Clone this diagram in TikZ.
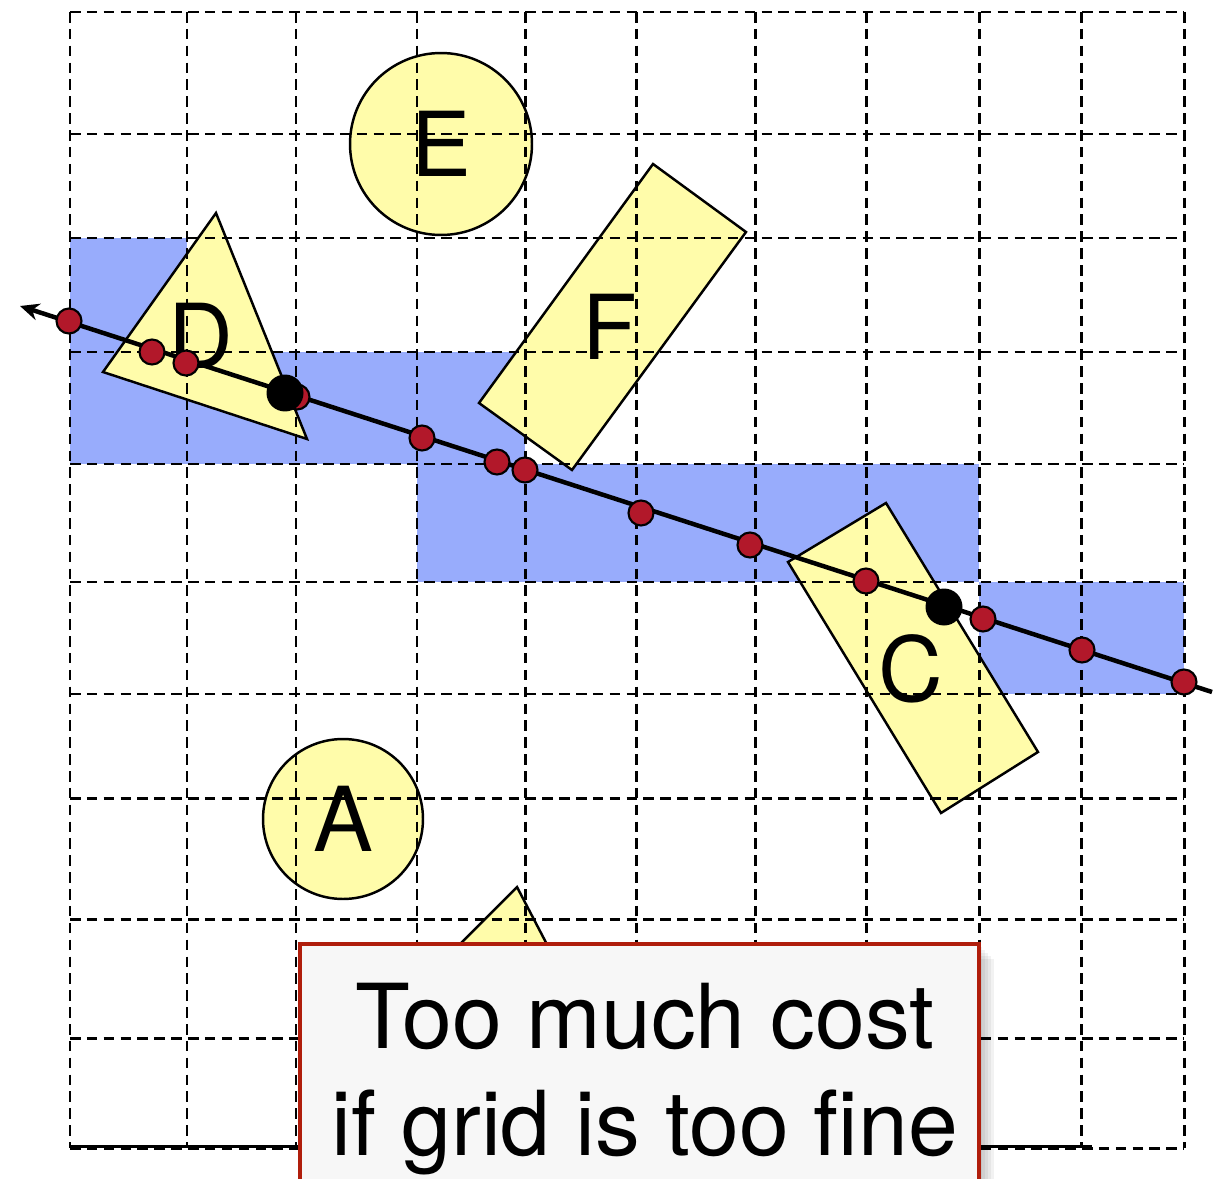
\documentclass[tikz,border=0pt]{standalone}
\usepackage{fontspec}
\setmainfont{TeX Gyre Heros}
\usepackage{tikz}
\usetikzlibrary{arrows.meta}
\definecolor{cellblue}{RGB}{152,172,252}
\definecolor{objyellow}{RGB}{255,252,170}
\definecolor{hitred}{RGB}{178,24,42}
\definecolor{noteborder}{RGB}{176,30,12}

\begin{document}
\begin{tikzpicture}[x=0.02cm,y=-0.02cm,
    obj/.style={draw=black,line width=1.4pt,fill=objyellow},
    lbl/.style={font=\fontsize{51}{60}\selectfont,inner sep=0pt},
    gridline/.style={line width=1.7pt,dash pattern=on 6pt off 3.6pt},
    hit/.style={circle,draw=black,line width=1.2pt,fill=hitred,minimum size=0.5cm,inner sep=0pt},
    bigdot/.style={circle,fill=black,minimum size=0.74cm,inner sep=0pt}]
  \useasboundingbox (0,0) rectangle (1220,1179);
  % cells visited by the ray
  \fill[cellblue] (70,238) rectangle (187,352);
  \fill[cellblue] (70,352) rectangle (525,464);
  \fill[cellblue] (417,464) rectangle (979,582);
  \fill[cellblue] (979,582) rectangle (1184,694);
  % objects
  \node[obj,circle,minimum size=3.64cm,lbl] (E) at (441,144) {E};
  \node[obj,circle,minimum size=3.2cm,lbl] (A) at (343,819) {A};
  \draw[obj] (216,213) -- (103,372) -- (307,439) -- cycle;
  \node[lbl] (D) at (201,336) {D};
  \draw[obj] (653,164) -- (746,232) -- (572,470) -- (479,403) -- cycle;
  \node[lbl] (F) at (610,327) {F};
  \draw[obj] (886,503) -- (1038,752) -- (941,813) -- (788,562) -- cycle;
  \node[lbl] (C) at (911,669) {C};
  \draw[obj] (517,887) -- (404,1000) -- (576,1000) -- cycle;
  % grid
  \foreach \gx in {70,187,296,417,525,636,755,866,979,1081,1184}
    \draw[gridline] (\gx,12) -- (\gx,1148);
  \foreach \gy in {12,134,238,352,464,582,694,798,919,1038,1148}
    \draw[gridline] (70,\gy) -- (1184,\gy);
  \draw[line width=1.7pt] (70,1146) -- (1092,1146);
  % the ray and its crossings
  \coordinate (rayR) at (1212,692);
  \coordinate (rayL) at (20,306);
  \draw[line width=0.09cm,-{Stealth[length=0.38cm,width=0.34cm]}] (rayR) -- (rayL);
  \foreach \px/\py [count=\i] in {69/321,152/352,186/363,297/397,422/438,497/462,525/470,
      641/513,750/545,866/581,983/619,1082/650,1184/682}
    \node[hit] (p\i) at (\px,\py) {};
  \node[bigdot] (hitD) at (285,393) {};
  \node[bigdot] (hitC) at (944,607) {};
  % note
  \foreach \s in {3,6,9,12,15}
    \fill[black,opacity=0.05] (300+\s,944+\s) rectangle (979+\s,1200);
  \draw[noteborder,line width=0.085cm,fill=black!3] (300,944) rectangle (979,1200);
  \node[lbl,anchor=base] (note1) at (645,1048) {Too much cost};
  \node[lbl,anchor=base] (note2) at (645,1155) {if grid is too fine};
\end{tikzpicture}
\end{document}
